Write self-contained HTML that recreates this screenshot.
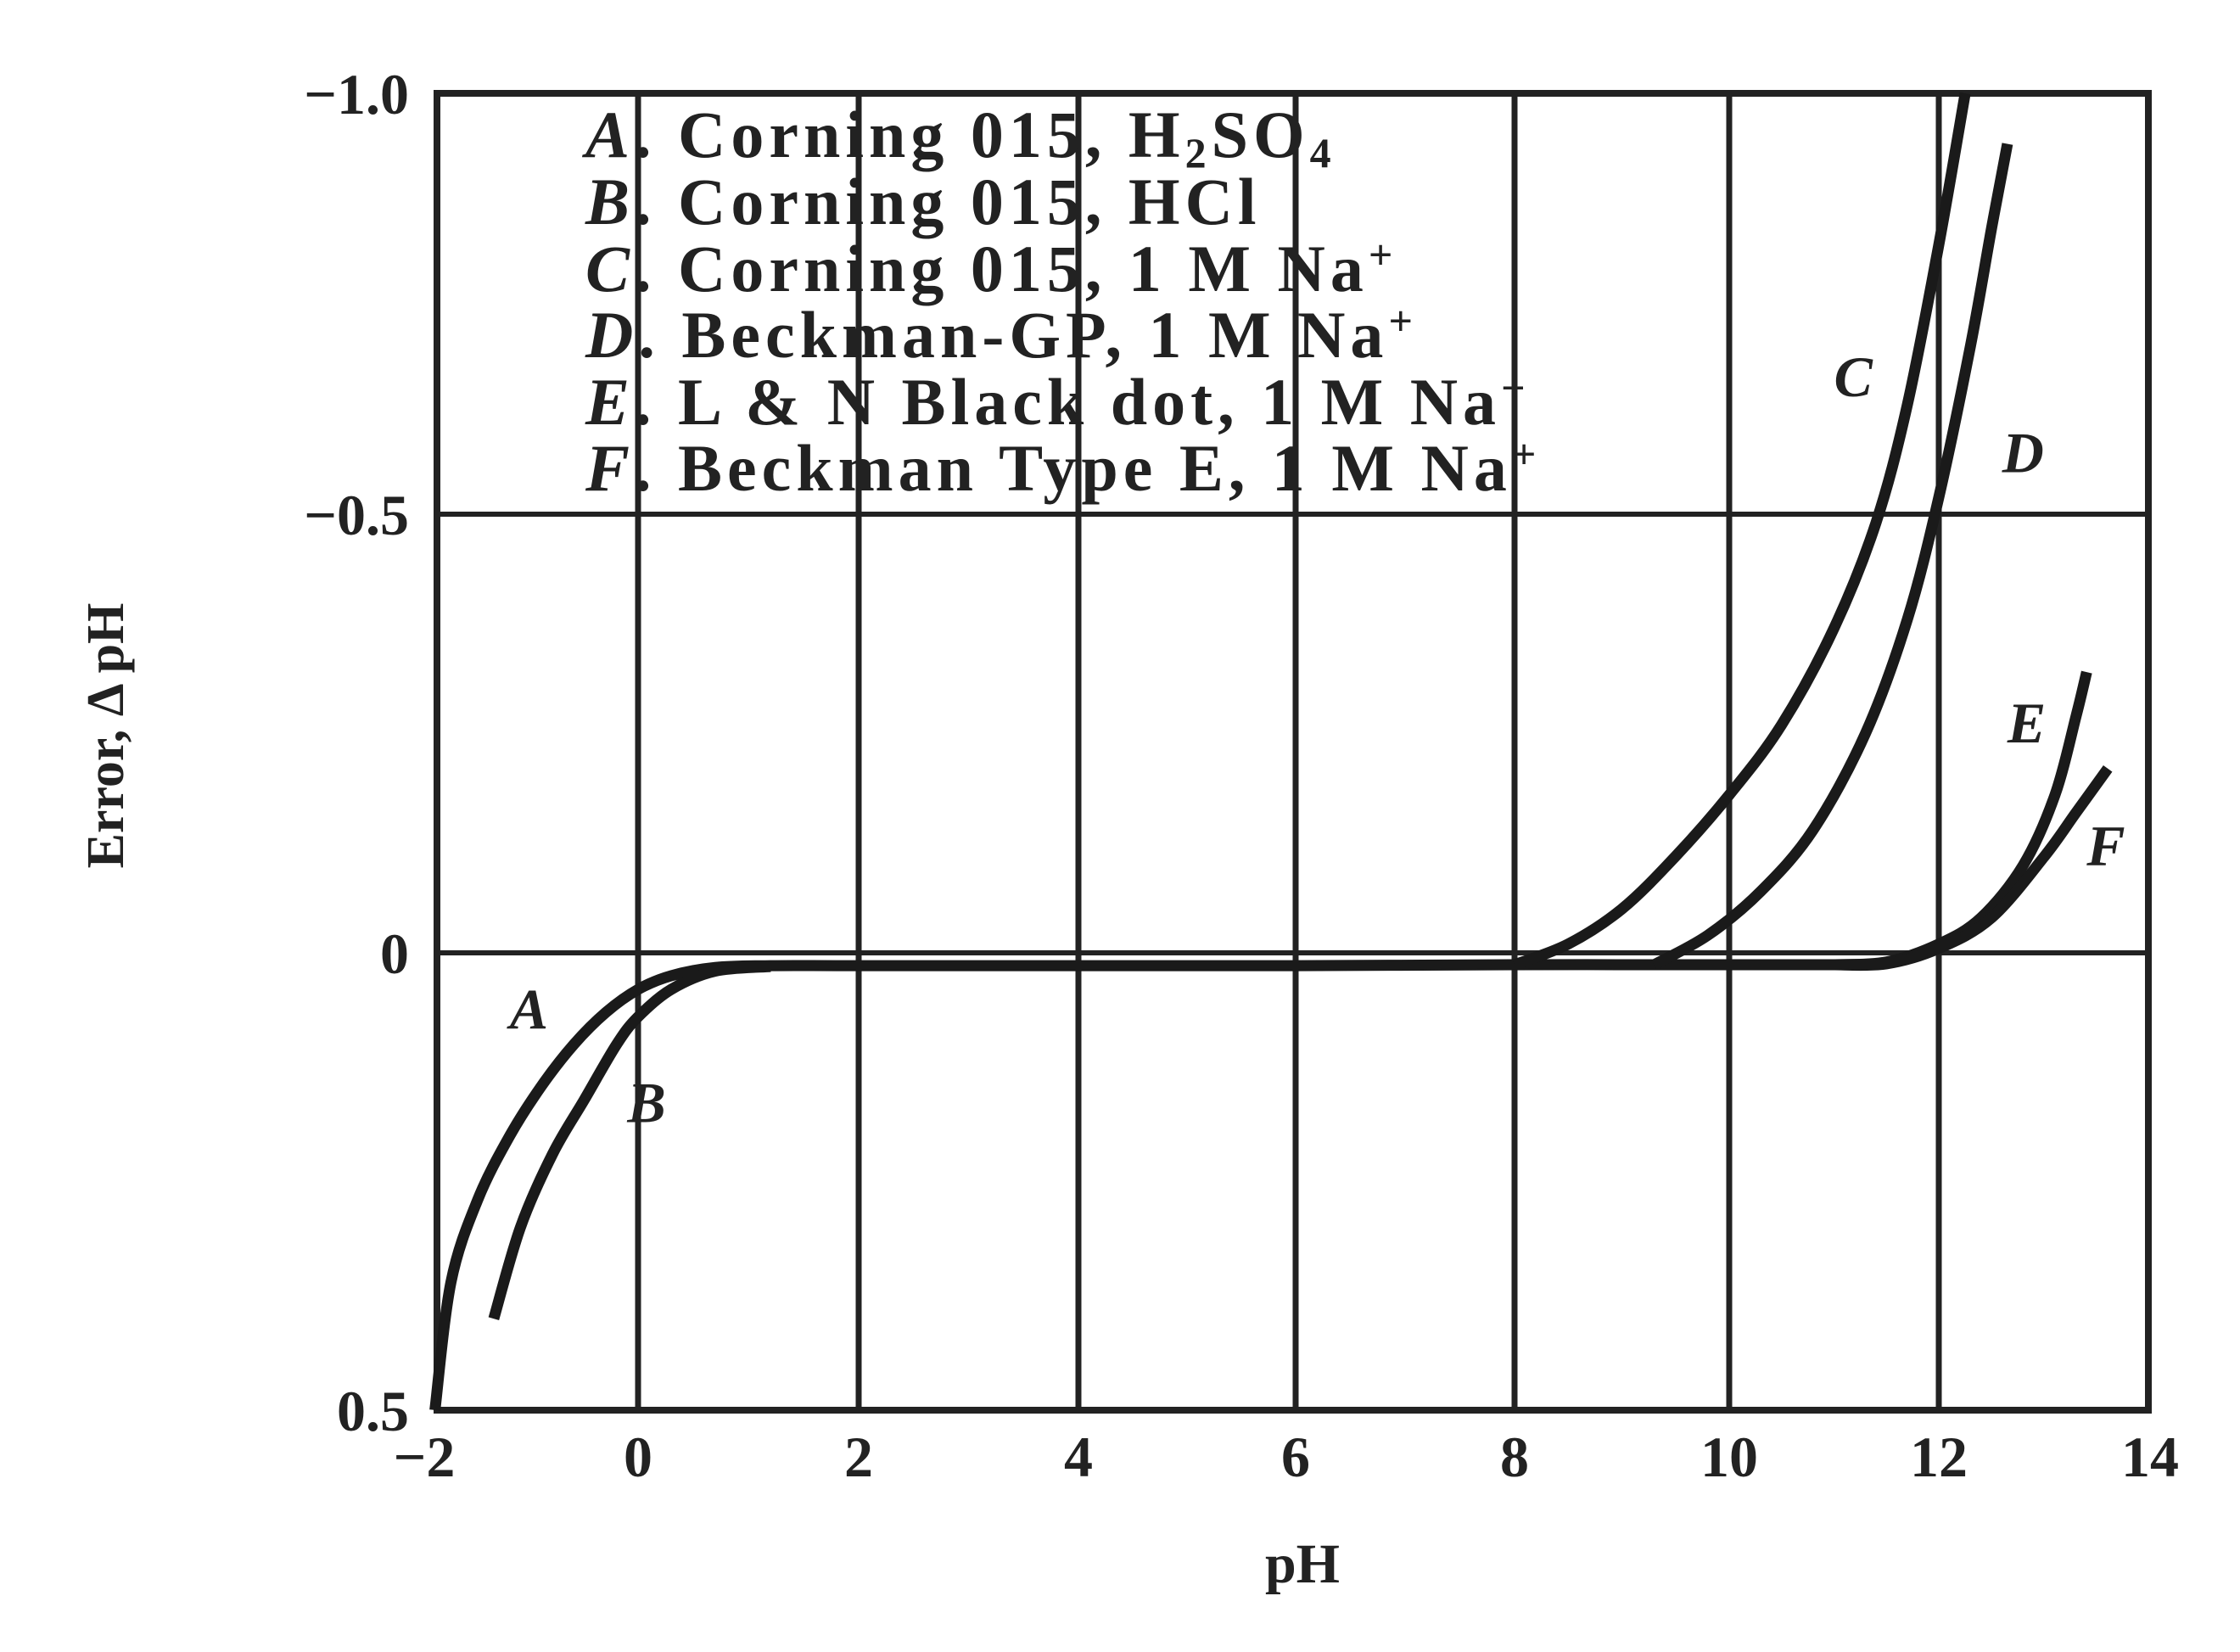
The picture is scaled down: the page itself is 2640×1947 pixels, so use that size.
<!DOCTYPE html>
<html><head><meta charset="utf-8"><style>
html,body{margin:0;padding:0;background:#fff;}
svg{display:block;}
text{font-family:"Liberation Serif",serif;fill:#222;}
</style></head><body>
<svg id="chart" width="2640" height="1947" viewBox="0 0 2640 1947" xmlns="http://www.w3.org/2000/svg">
<g id="grid"></g>
<g id="curves"></g>
<g id="labels"></g>
<g id="legend" font-size="78" font-weight="bold" letter-spacing="6">
<text x="690" y="185"><tspan font-style="italic">A</tspan>. Corning 015, H<tspan font-size="50" dy="12">2</tspan><tspan dy="-12">SO</tspan><tspan font-size="50" dy="12">4</tspan></text>
<text x="690" y="264"><tspan font-style="italic">B</tspan>. Corning 015, HCl</text>
<text x="690" y="343"><tspan font-style="italic">C</tspan>. Corning 015, 1 M Na<tspan font-size="50" dy="-26">+</tspan></text>
<text x="690" y="421"><tspan font-style="italic">D</tspan>. Beckman-GP, 1 M Na<tspan font-size="50" dy="-26">+</tspan></text>
<text x="690" y="500"><tspan font-style="italic">E</tspan>. L &amp; N Black dot, 1 M Na<tspan font-size="50" dy="-26">+</tspan></text>
<text x="690" y="578"><tspan font-style="italic">F</tspan>. Beckman Type E, 1 M Na<tspan font-size="50" dy="-26">+</tspan></text>
</g>
<text x="1535" y="1865" font-size="66" font-weight="bold" text-anchor="middle">pH</text>
<text x="0" y="0" font-size="62" font-weight="bold" text-anchor="middle" transform="translate(145,867) rotate(-90)">Error, Δ pH</text>
</svg>
<script>
const xTicks = [-2, 0, 2, 4, 6, 8, 10, 12, 14];
const xTickLabels = ["−2", "0", "2", "4", "6", "8", "10", "12", "14"];
const yTicks = [-1, -0.5, 0, 0.5];
const yTickLabels = ["−1.0", "−0.5", "0", "0.5"];
const seriesNames = ["A", "B", "C", "D", "E", "F"];
const phA = [-1.9,-1.75,-1.5,-1.2,-0.9,-0.6,-0.3,0,0.3,0.7,1.2,2,4,6,8,10,11,11.5];
const errA = [0.5,0.36,0.27,0.2,0.145,0.1,0.065,0.04,0.025,0.016,0.014,0.014,0.014,0.014,0.013,0.013,0.013,0.012];
const phB = [-1.35,-1.1,-0.8,-0.5,-0.2,0,0.3,0.7,1.2];
const errB = [0.4,0.3,0.22,0.16,0.1,0.07,0.04,0.02,0.015];
const phC = [8.0,8.5,9,9.5,10,10.5,11,11.4,11.7,12.0,12.25];
const errC = [0.013,-0.01,-0.05,-0.11,-0.18,-0.26,-0.37,-0.49,-0.63,-0.82,-1.0];
const phD = [9.3,9.8,10.3,10.8,11.3,11.7,12,12.3,12.5,12.65];
const errD = [0.013,-0.02,-0.07,-0.14,-0.25,-0.38,-0.52,-0.7,-0.84,-0.94];
const phE = [11.0,11.5,12,12.4,12.8,13.1,13.3,13.4];
const errE = [0.013,0.01,-0.01,-0.04,-0.1,-0.18,-0.27,-0.32];
const phF = [11.0,11.5,12,12.5,13,13.3,13.6];
const errF = [0.013,0.012,-0.005,-0.04,-0.11,-0.16,-0.21];
const labelPh = [-1.2, -0.1, 11.0, 12.6, 12.65, 13.4];
const labelErr = [0.083, 0.185, -0.64, -0.55, -0.24, -0.1];

const NS = "http://www.w3.org/2000/svg";
const xPx = [500, 752, 1012, 1271, 1527, 1785, 2038, 2285, 2534];
const yPx = [110, 606, 1123, 1662];
function interp(v, ts, ps) {
  let i = 0;
  while (i < ts.length - 2 && v > ts[i + 1]) i++;
  return ps[i] + (v - ts[i]) * (ps[i + 1] - ps[i]) / (ts[i + 1] - ts[i]);
}
function X(v) { return interp(v, xTicks, xPx); }
function Y(v) { return interp(v, yTicks, yPx); }
function mk(tag, attrs, parent) {
  const e = document.createElementNS(NS, tag);
  for (const k in attrs) e.setAttribute(k, attrs[k]);
  parent.appendChild(e);
  return e;
}
const L = 515, R = 2532, T = 110, B = 1662;
const grid = document.getElementById('grid');
for (let i = 1; i < xTicks.length - 1; i++) {
  const ln = mk('line', {x1: X(xTicks[i]), x2: X(xTicks[i]), y1: T, y2: B, stroke: '#222', 'stroke-width': 7}, grid);
  
  
}
for (let i = 1; i < yTicks.length - 1; i++) {
  const ln = mk('line', {x1: L, x2: R, y1: Y(yTicks[i]), y2: Y(yTicks[i]), stroke: '#222', 'stroke-width': 6}, grid);
  
  
}
const frame = mk('rect', {x: L, y: T, width: R - L, height: B - T, fill: 'none', stroke: '#222', 'stroke-width': 8}, grid);



const labels = document.getElementById('labels');
for (let i = 0; i < xTicks.length; i++) {
  const t = mk('text', {x: X(xTicks[i]), y: 1740, 'font-size': 68, 'font-weight': 'bold', 'text-anchor': 'middle'}, labels);
  t.textContent = xTickLabels[i];
  
  
}
for (let i = 0; i < yTicks.length; i++) {
  const t = mk('text', {x: 482, y: Y(yTicks[i]) + 24, 'font-size': 68, 'font-weight': 'bold', 'text-anchor': 'end'}, labels);
  t.textContent = yTickLabels[i];
  
  
}

function smoothPath(xs, ys) {
  const p = xs.map((v, i) => [X(v), Y(ys[i])]);
  let d = 'M' + p[0][0] + ',' + p[0][1];
  for (let i = 0; i < p.length - 1; i++) {
    const p0 = p[i - 1] || p[i], p1 = p[i], p2 = p[i + 1], p3 = p[i + 2] || p2;
    const c1 = [p1[0] + (p2[0] - p0[0]) / 6, p1[1] + (p2[1] - p0[1]) / 6];
    const c2 = [p2[0] - (p3[0] - p1[0]) / 6, p2[1] - (p3[1] - p1[1]) / 6];
    d += ' C' + c1[0] + ',' + c1[1] + ' ' + c2[0] + ',' + c2[1] + ' ' + p2[0] + ',' + p2[1];
  }
  return d;
}
const curves = document.getElementById('curves');
const allPh = [phA, phB, phC, phD, phE, phF];
const allErr = [errA, errB, errC, errD, errE, errF];
for (let s = 0; s < seriesNames.length; s++) {
  const p = mk('path', {d: smoothPath(allPh[s], allErr[s]), fill: 'none', stroke: '#1a1a1a', 'stroke-width': 13, 'stroke-linecap': 'butt', 'stroke-linejoin': 'round'}, curves);
  
  
}
for (let s = 0; s < seriesNames.length; s++) {
  const t = mk('text', {x: X(labelPh[s]), y: Y(labelErr[s]), 'font-size': 68, 'font-weight': 'bold', 'font-style': 'italic'}, labels);
  t.textContent = seriesNames[s];
  
  
}
</script>
</body></html>
